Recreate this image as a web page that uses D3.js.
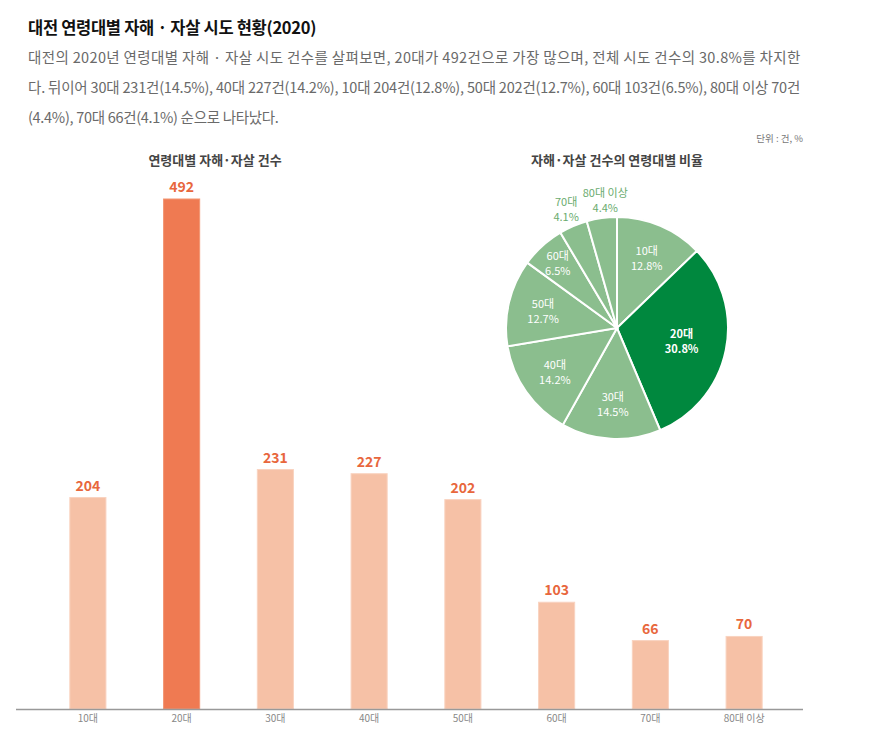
<!DOCTYPE html>
<html><head><meta charset="utf-8">
<script src="https://cdn.jsdelivr.net/npm/d3@7"></script>
<style>
body{margin:0;background:#fff;}
text{font-family:"Noto Sans CJK KR","Noto Sans",sans-serif;}
</style></head>
<body><svg id="c" width="896" height="737"></svg>
<script>
const categories = ["10대","20대","30대","40대","50대","60대","70대","80대 이상"];
const counts = [204,492,231,227,202,103,66,70];
const highlight = "20대";
const titleText = "대전 연령대별 자해 · 자살 시도 현황(2020)";
const paragraph = [
 "대전의 2020년 연령대별 자해 · 자살 시도 건수를 살펴보면, 20대가 492건으로 가장 많으며, 전체 시도 건수의 30.8%를 차지한",
 "다. 뒤이어 30대 231건(14.5%), 40대 227건(14.2%), 10대 204건(12.8%), 50대 202건(12.7%), 60대 103건(6.5%), 80대 이상 70건",
 "(4.4%), 70대 66건(4.1%) 순으로 나타났다."
];
const unitText = "단위 : 건, %";
const barTitle = "연령대별 자해·자살 건수";
const pieTitle = "자해·자살 건수의 연령대별 비율";

const svg = d3.select("#c");

svg.append("text").attr("x",28).attr("y",34).attr("font-size",16.5).attr("font-weight",700)
  .attr("fill","#111").attr("letter-spacing",-0.3).text(titleText);
paragraph.forEach((t,i)=>{
  const tx = svg.append("text").attr("x",28).attr("y",63+i*30).attr("font-size",14.5)
    .attr("fill","#6a6a6a").attr("letter-spacing",-0.3).text(t);
  if(i<2) tx.attr("textLength",772).attr("lengthAdjust","spacing");
});
svg.append("text").attr("x",803).attr("y",142).attr("text-anchor","end").attr("font-size",9.5)
  .attr("fill","#777").text(unitText);

// Bar chart
const x = d3.scaleBand().domain(categories).range([41,791]).paddingInner(0.615).paddingOuter(0.3075);
const y = d3.scaleLinear().domain([0,492]).range([709,199]);
svg.append("text").attr("x",215).attr("y",165).attr("text-anchor","middle").attr("font-size",13)
  .attr("font-weight",700).attr("fill","#444").text(barTitle);

svg.selectAll("rect.bar").data(categories).join("rect").attr("class","bar")
  .attr("x",d=>x(d)).attr("width",x.bandwidth())
  .attr("y",(d,i)=>y(counts[i])).attr("height",(d,i)=>y(0)-y(counts[i]))
  .attr("fill",d=>d===highlight?"#ef7a52":"#f6c1a6")
  .attr("stroke",d=>d===highlight?"#f29572":"#f9d3c0").attr("stroke-width",1);

svg.selectAll("text.val").data(categories).join("text").attr("class","val")
  .attr("x",d=>x(d)+x.bandwidth()/2).attr("y",(d,i)=>y(counts[i])-7)
  .attr("text-anchor","middle").attr("font-size",14).attr("font-weight",700)
  .attr("fill","#e8673d").attr("font-family","'DejaVu Sans',sans-serif").text((d,i)=>counts[i]);

const axis = svg.append("g").attr("transform","translate(0,709)")
  .call(d3.axisBottom(x).tickSize(0).tickPadding(6));
axis.select(".domain").remove();
axis.selectAll("text").attr("font-size",10).attr("fill","#888")
  .attr("font-family","'Noto Sans CJK KR',sans-serif");
svg.append("line").attr("x1",16).attr("x2",803).attr("y1",709.5).attr("y2",709.5)
  .attr("stroke","#999").attr("stroke-width",1.5);

// Pie chart
const cx=617, cy=328, R=111;
svg.append("text").attr("x",cx).attr("y",165).attr("text-anchor","middle").attr("font-size",13)
  .attr("font-weight",700).attr("fill","#444").text(pieTitle);
const total = d3.sum(counts);
const pie = d3.pie().sort(null).value(d=>d.v);
const arcs = pie(categories.map((c,i)=>({c, v:counts[i]})));
const arc = d3.arc().innerRadius(0).outerRadius(R);
const g = svg.append("g").attr("transform",`translate(${cx},${cy})`);
g.selectAll("path").data(arcs).join("path").attr("d",arc)
  .attr("fill",d=>d.data.c===highlight?"#00883e":"#8bbe8e")
  .attr("stroke","#fff").attr("stroke-width",2);

arcs.forEach(d=>{
  const pct = (d.data.v/total*100).toFixed(1)+"%";
  const frac = (d.endAngle-d.startAngle)/(2*Math.PI);
  const outside = frac<0.05;
  const mid = (d.startAngle+d.endAngle)/2;
  let r = outside?129:(frac<0.08?88:(frac>0.2?66:76));
  let lx = r*Math.sin(mid), ly = -r*Math.cos(mid);
  if(d.data.c==="80대 이상") lx += 6;
  const isH = d.data.c===highlight;
  const t = g.append("text").attr("text-anchor","middle")
    .attr("font-size",11).attr("font-weight",isH?700:400)
    .attr("fill",outside?"#6aab6e":"#fff");
  t.append("tspan").attr("x",lx).attr("y",ly-3).text(d.data.c);
  t.append("tspan").attr("x",lx).attr("y",ly+12).text(pct);
});
</script></body></html>
